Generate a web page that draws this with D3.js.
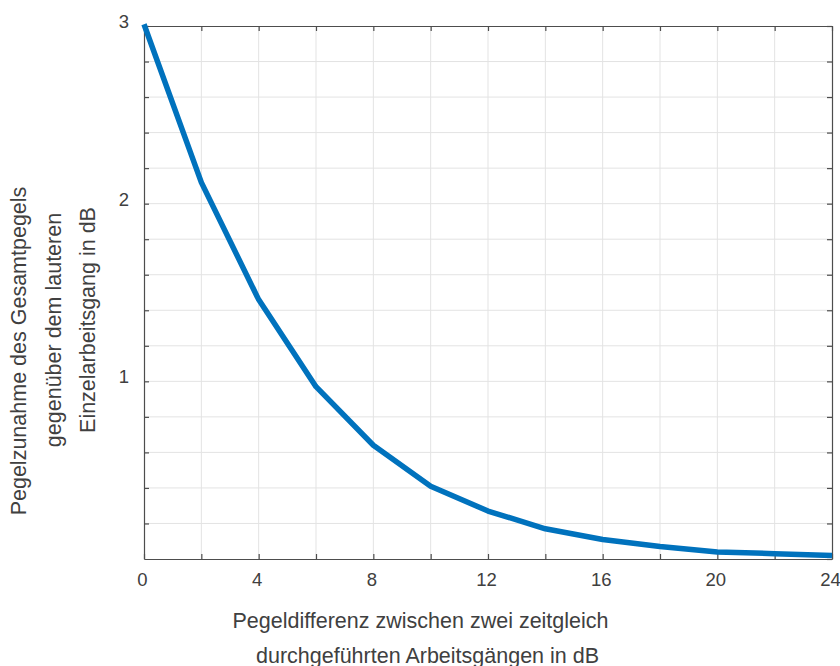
<!DOCTYPE html>
<html><head><meta charset="utf-8">
<script src="https://cdn.jsdelivr.net/npm/d3@7"></script>
<style>body{margin:0;background:#fff}svg{display:block}</style>
</head><body>
<svg id="c" width="840" height="666"></svg>
<script>
const levelDiff = [0,2,4,6,8,10,12,14,16,18,20,22,24];
const levelIncrease = [3.01,2.12,1.46,0.97,0.64,0.41,0.27,0.17,0.11,0.07,0.04,0.03,0.02];
const xTickLabels = [0,4,8,12,16,20,24];
const yTickLabels = [1,2,3];
const xLabelLines = ["Pegeldifferenz zwischen zwei zeitgleich","durchgeführten Arbeitsgängen in dB"];
const yLabelLines = ["Pegelzunahme des Gesamtpegels","gegenüber dem lauteren","Einzelarbeitsgang in dB"];

const svg = d3.select("#c");
const L=144, R=832, T=26, B=559;
const x = d3.scaleLinear().domain([0,24]).range([L,R]);
const y = d3.scaleLinear().domain([0,3]).range([B,T]);
const font = "Liberation Sans, Arial, sans-serif";
const axisCol = "#4d4d4d", txtCol="#404040", gridCol="#e3e3e3";

const xMinor = d3.range(0,24.01,2);
const yMinor = d3.range(0,3.001,0.2);

// grid
svg.append("g").selectAll("line").data(xMinor.slice(1,-1)).join("line")
  .attr("x1",d=>x(d)).attr("x2",d=>x(d)).attr("y1",T).attr("y2",B)
  .attr("stroke",gridCol).attr("stroke-width",1);
svg.append("g").selectAll("line").data(yMinor.slice(1,-1)).join("line")
  .attr("y1",d=>y(d)).attr("y2",d=>y(d)).attr("x1",L).attr("x2",R)
  .attr("stroke",gridCol).attr("stroke-width",1);

// axes (box with inward ticks)
const tl=5;
const gx = svg.append("g").attr("transform",`translate(0,${B})`)
  .call(d3.axisBottom(x).tickValues(xMinor).tickSizeInner(-tl).tickSizeOuter(0).tickFormat(d=>xTickLabels.includes(d)?d:"").tickPadding(14));
const gxt = svg.append("g").attr("transform",`translate(0,${T})`)
  .call(d3.axisTop(x).tickValues(xMinor).tickSizeInner(-tl).tickSizeOuter(0).tickFormat(""));
const gy = svg.append("g").attr("transform",`translate(${L},0)`)
  .call(d3.axisLeft(y).tickValues(yMinor.filter(d=>d>0.001)).tickSizeInner(-tl).tickSizeOuter(0)
    .tickFormat(d=>yTickLabels.some(v=>Math.abs(v-d)<1e-6)?d3.format("d")(Math.round(d)):"").tickPadding(15));
const gyr = svg.append("g").attr("transform",`translate(${R},0)`)
  .call(d3.axisRight(y).tickValues(yMinor).tickSizeInner(-tl).tickSizeOuter(0).tickFormat(""));
[gx,gxt,gy,gyr].forEach(g=>{
  g.select(".domain").attr("stroke",axisCol).attr("stroke-width",1.2);
  g.selectAll(".tick line").attr("stroke",axisCol).attr("stroke-width",1.2);
  g.selectAll("text").attr("fill",txtCol).attr("font-family",font).attr("font-size",18.5);
});
gy.selectAll(".tick text").attr("dy","0.32em").attr("y",-4.5);
gx.selectAll(".tick text").attr("dx",-2);

// line
svg.append("path").datum(levelDiff.map((d,i)=>[d,levelIncrease[i]]))
  .attr("d",d3.line().x(d=>x(d[0])).y(d=>y(d[1])))
  .attr("fill","none").attr("stroke","#0072BD").attr("stroke-width",5.5).attr("stroke-linejoin","round");

// labels
const xLabelPos = [[420.5,628],[427.5,663]];
svg.append("g").selectAll("text").data(xLabelLines).join("text")
  .attr("x",(d,i)=>xLabelPos[i][0]).attr("y",(d,i)=>xLabelPos[i][1]).attr("text-anchor","middle")
  .attr("font-family",font).attr("font-size",21.5).attr("fill",txtCol).text(d=>d);
const yLabelPos = [[26,351],[60.5,330],[95,320]];
svg.append("g").selectAll("text").data(yLabelLines).join("text")
  .attr("transform",(d,i)=>`translate(${yLabelPos[i][0]},${yLabelPos[i][1]}) rotate(-90)`).attr("text-anchor","middle")
  .attr("font-family",font).attr("font-size",21.5).attr("fill",txtCol).text(d=>d);
</script>
</body></html>
